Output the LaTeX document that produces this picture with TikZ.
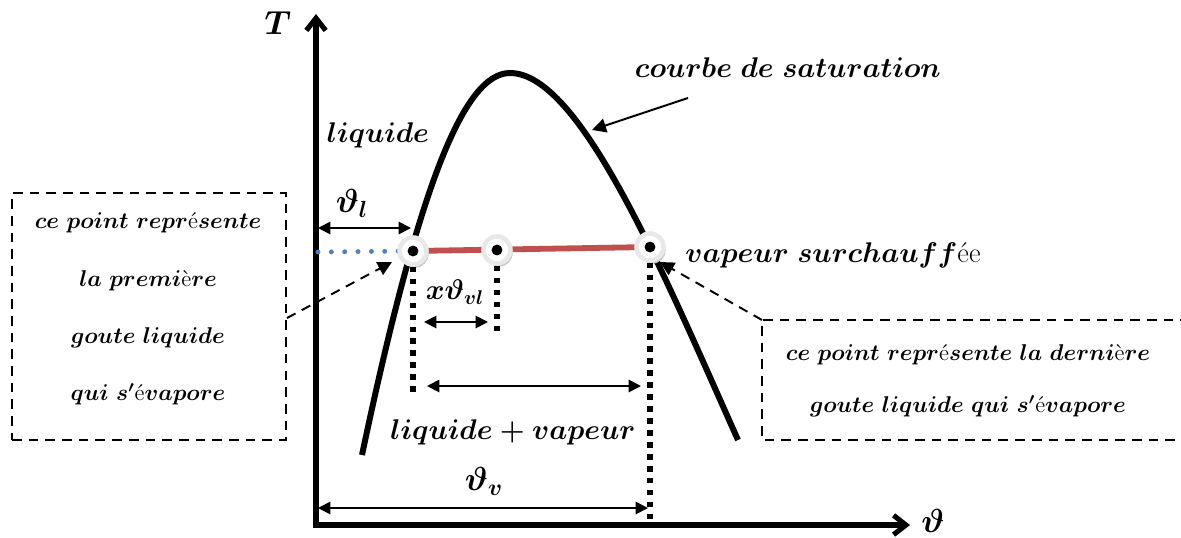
\RequirePackage{fix-cm}
\documentclass[tikz,border=0pt]{standalone}
\usetikzlibrary{arrows.meta,shadows}
\newcommand\myup[1]{\textnormal{\mdseries\upshape #1}}
\begin{document}
\begin{tikzpicture}[x=0.02cm,y=-0.02cm,
  lab/.style={font=\fontsize{16.2}{19}\selectfont\boldmath, inner sep=0pt},
  symlab/.style={font=\fontsize{19}{22}\selectfont\boldmath, inner sep=0pt},
  axis/.style={line width=2.9pt, {Straight Barb[length=7pt,width=11pt,line width=2.9pt]}-{Straight Barb[length=7pt,width=11pt,line width=2.9pt]}},
  satcurve/.style={line width=3.4pt},
  dim/.style={line width=1.1pt, {Triangle[length=7pt,width=7pt]}-{Triangle[length=7pt,width=7pt]}},
  callout/.style={line width=1.1pt, dash pattern=on 5.5pt off 4pt, -{Triangle[length=8pt,width=8pt]}},
  pointer/.style={line width=1.1pt, -{Triangle[length=8pt,width=8pt]}},
  sqdot/.style={line width=3.2pt, dash pattern=on 3.2pt off 3.6pt},
  bluedot/.style={line width=2.8pt, color=bluec, line cap=round, dash pattern=on 0pt off 7.6pt},
  redline/.style={line width=3.3pt, color=redc},
  dbox/.style={draw, line width=1.1pt, dash pattern=on 5.5pt off 4pt},
  pt/.style={circle, minimum size=27*0.02cm, inner sep=0pt, fill=white, draw=gray!18, line width=2.6pt,
     drop shadow={shadow xshift=1.2pt, shadow yshift=-1.8pt, fill=gray!45, opacity=1},
     path picture={\fill[black] (path picture bounding box.center) circle (3.1pt);}}
]
\definecolor{bluec}{HTML}{4F81BD}
\definecolor{redc}{HTML}{C0504D}
\useasboundingbox (0,0) rectangle (1181,538);

% axes
\coordinate (O) at (316,525);
\coordinate (Ytop) at (316,14);
\coordinate (Xend) at (910,525);
\draw[axis] (Ytop) -- (O) -- (Xend);
\node[symlab] (T) at (278,23) {$T$};
\node[symlab] (thx) at (933,521) {$\vartheta$};

% saturation curve
\draw[satcurve] (362,455) .. controls (420,180) and (465,73) .. (510,73)
   .. controls (580,73) and (662,270) .. (738,440);

% points
\coordinate (c1) at (413,251);
\coordinate (c2) at (497,250);
\coordinate (c3) at (650,247);
\coordinate (b0) at (318,252);
\draw[redline] (c1) -- (c3);
\draw[bluedot] (b0) -- (c1);
\node[pt] (p1) at (c1) {};
\node[pt] (p2) at (c2) {};
\node[pt] (p3) at (c3) {};

% dotted verticals
\coordinate (d1) at (414,396);
\coordinate (d2) at (496,336);
\coordinate (d3) at (650,527);
\draw[sqdot] (p1.south) -- (p1.south |- d1);
\draw[sqdot] (p2.south) -- (p2.south |- d2);
\draw[sqdot] (p3.south) -- (p3.south |- d3);

% dimension arrows
\coordinate (l1) at (318,228); \coordinate (l2) at (411,228);
\draw[dim] (l1) -- (l2);
\node[symlab] (thl) at (352,203) {$\vartheta_l$};
\coordinate (x1) at (424,322); \coordinate (x2) at (488,322);
\draw[dim] (x1) -- (x2);
\node[lab] (xthvl) at (455,292) {$x\vartheta_{vl}$};
\coordinate (m1) at (427,386); \coordinate (m2) at (641,386);
\draw[dim] (m1) -- (m2);
\node[lab] (lv) at (513,432) {$liquide+vapeur$};
\coordinate (v1) at (318,508); \coordinate (v2) at (648,508);
\draw[dim] (v1) -- (v2);
\node[symlab] (thv) at (484,481) {$\vartheta_v$};

% labels
\node[lab] (liq) at (378,135) {$liquide$};
\node[lab] (sat) at (788,68) {$courbe\ de\ saturation$};
\coordinate (s1) at (688,98); \coordinate (s2) at (592,130);
\draw[pointer] (s1) -- (s2);
\node[lab] (vs) at (833,255) {$vapeur\ surchauff$\myup{ée}};

% left box
\node[dbox, minimum width=274*0.02cm, minimum height=247*0.02cm, inner sep=0pt] (box1) at (149,316.5) {};
\node[lab, align=center, font=\fontsize{13}{32.6}\selectfont\boldmath] (t1) at (148,309)
  {$ce\ point\ repr$\myup{é}$sente$\\ $la\ premi$\myup{è}$re$\\ $goute\ liquide$\\ $qui\ s'$\myup{é}$vapore$};
\coordinate (a1) at (392,262);
\draw[callout] (box1.east |- 0,318) -- (a1);

% right box
\coordinate (r1) at (1190,320);
\coordinate (r2) at (762,320);
\coordinate (r3) at (762,440);
\coordinate (r4) at (1190,440);
\draw[dbox] (r1) -- (r2) -- (r3) -- (r4);
\node[lab, align=center, font=\fontsize{13}{29.5}\selectfont\boldmath] (t2) at (968,381)
  {$ce\ point\ repr$\myup{é}$sente\ la\ derni$\myup{è}$re$\\ $goute\ liquide\ qui\ s'$\myup{é}$vapore$};
\coordinate (a2) at (660,262);
\draw[callout] (r2) -- (a2);
\end{tikzpicture}
\end{document}
